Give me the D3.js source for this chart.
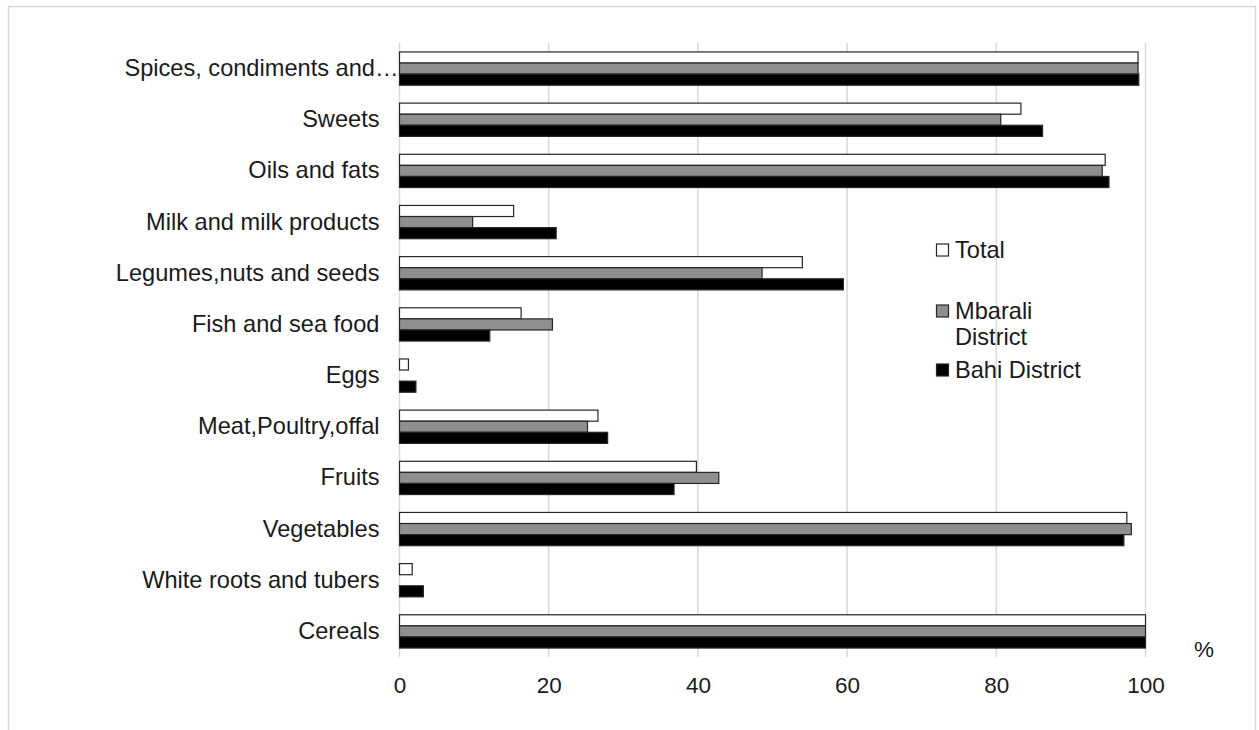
<!DOCTYPE html>
<html>
<head>
<meta charset="utf-8">
<script src="https://cdn.jsdelivr.net/npm/d3@7"></script>
<style>
  body { margin: 0; background: #fff; }
  text { font-family: "Liberation Sans", Arial, sans-serif; fill: #1a1a1a; }
</style>
</head>
<body>
<div id="chart"></div>
<script>
// categories listed top to bottom
const categories = ['Spices, condiments and…', 'Sweets', 'Oils and fats', 'Milk and milk products',
  'Legumes,nuts and seeds', 'Fish and sea food', 'Eggs', 'Meat,Poultry,offal', 'Fruits',
  'Vegetables', 'White roots and tubers', 'Cereals']
const seriesNames = ['Total', 'Mbarali District', 'Bahi District']
const total = [99.0, 83.3, 94.6, 15.3, 54.0, 16.3, 1.2, 26.6, 39.8, 97.5, 1.7, 100]
const mbarali = [99.0, 80.6, 94.2, 9.8, 48.6, 20.5, 0, 25.2, 42.8, 98.1, 0, 100]
const bahi = [99.1, 86.2, 95.1, 21.0, 59.5, 12.1, 2.2, 27.9, 36.8, 97.1, 3.2, 100]
const xTicks = [0, 20, 40, 60, 80, 100]

const init = () => {
  const w = 1259
  const h = 730
  const colors = ['#ffffff', '#8f8f8f', '#000000']
  const series = [total, mbarali, bahi]

  const svg = d3.select('#chart')
    .append('svg')
    .attr('width', w)
    .attr('height', h)

  // outer frame
  svg.append('rect')
    .attr('x', 8.5)
    .attr('y', 6.5)
    .attr('width', 1247)
    .attr('height', 740)
    .attr('fill', 'none')
    .attr('stroke', '#d9d9d9')
    .attr('stroke-width', 1.5)

  const xScale = d3.scaleLinear()
    .domain([0, 100])
    .range([399.5, 1145.5])

  const yScale = d3.scaleBand()
    .domain(categories)
    .range([43, 657])
    .paddingInner(0.35)
    .paddingOuter(0.175)

  const subScale = d3.scaleBand()
    .domain(seriesNames)
    .range([0, yScale.bandwidth()])

  // gridlines
  svg.append('g')
    .selectAll('line')
    .data(xTicks)
    .enter()
    .append('line')
    .attr('x1', d => xScale(d))
    .attr('x2', d => xScale(d))
    .attr('y1', 43)
    .attr('y2', 657)
    .attr('stroke', '#d9d9d9')
    .attr('stroke-width', 1.5)

  const rows = categories.map((c, i) => ({ cat: c, vals: series.map(s => s[i]) }))

  const group = svg.append('g')
    .selectAll('g')
    .data(rows)
    .enter()
    .append('g')
    .attr('transform', d => 'translate(0,' + yScale(d.cat) + ')')

  group.selectAll('rect')
    .data(d => d.vals.map((v, j) => ({ v: v, name: seriesNames[j], color: colors[j] })))
    .enter()
    .filter(d => d.v > 0)
    .append('rect')
    .attr('x', xScale(0))
    .attr('y', d => subScale(d.name))
    .attr('width', d => xScale(d.v) - xScale(0))
    .attr('height', subScale.bandwidth())
    .attr('fill', d => d.color)
    .attr('stroke', '#262626')
    .attr('stroke-width', 1.2)

  // category labels
  const yAxis = d3.axisLeft(yScale)
    .tickSize(0)
    .tickPadding(20)

  const yg = svg.append('g')
    .attr('transform', 'translate(' + xScale(0) + ',0)')
    .call(yAxis)
  yg.select('.domain').remove()
  yg.selectAll('text')
    .style('font-size', '23.6px')
    .style('font-family', '"Liberation Sans", Arial, sans-serif')
    .attr('fill', '#1a1a1a')
    .attr('dx', d => d === categories[0] ? 19 : 0)

  // x axis
  const xAxis = d3.axisBottom(xScale)
    .tickValues(xTicks)
    .tickSize(0)
    .tickPadding(20)

  const xg = svg.append('g')
    .attr('transform', 'translate(0,' + 657 + ')')
    .call(xAxis)
  xg.select('.domain').remove()
  xg.selectAll('text')
    .style('font-size', '22.5px')
    .style('font-family', '"Liberation Sans", Arial, sans-serif')
    .attr('fill', '#1a1a1a')

  svg.append('text')
    .attr('x', 1204)
    .attr('y', 657)
    .attr('text-anchor', 'middle')
    .style('font-size', '22.5px')
    .text('%')

  // legend
  const legendRows = [
    { name: 'Total', lines: ['Total'], y: 250 },
    { name: 'Mbarali District', lines: ['Mbarali', 'District'], y: 311 },
    { name: 'Bahi District', lines: ['Bahi District'], y: 370 }
  ]
  const legend = svg.append('g')
    .selectAll('g')
    .data(legendRows)
    .enter()
    .append('g')
    .attr('transform', d => 'translate(936,' + d.y + ')')

  legend.append('rect')
    .attr('x', 0.5)
    .attr('y', -6)
    .attr('width', 12)
    .attr('height', 12)
    .attr('fill', (d, i) => colors[i])
    .attr('stroke', '#262626')
    .attr('stroke-width', 1.2)

  legend.selectAll('text')
    .data(d => d.lines)
    .enter()
    .append('text')
    .attr('x', 19)
    .attr('y', (d, i) => 8 + i * 26)
    .style('font-size', '23.6px')
    .text(d => d)
}

init()
</script>
</body>
</html>
